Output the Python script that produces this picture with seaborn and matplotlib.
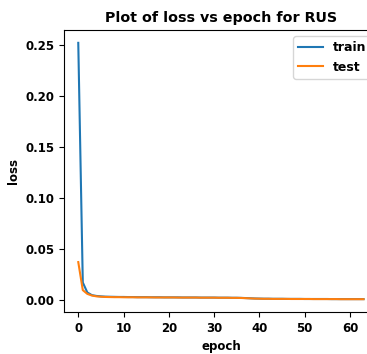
import numpy as np
import pandas as pd
import seaborn as sns
from matplotlib import pyplot as plt

# loss values, epochs 0..63
train_loss = [0.252, 0.017, 0.0072, 0.0046, 0.0038, 0.0034, 0.0031, 0.0030, 0.0029, 0.0028,
              0.0028, 0.0027, 0.0027, 0.0026, 0.0026, 0.0026, 0.0025, 0.0025, 0.0025, 0.0024,
              0.0024, 0.0024, 0.0024, 0.0023, 0.0023, 0.0023, 0.0023, 0.0022, 0.0022, 0.0022,
              0.0022, 0.0021, 0.0021, 0.0021, 0.0020, 0.0020, 0.0019, 0.0017, 0.0015, 0.0013,
              0.0012, 0.0011, 0.0011, 0.0010, 0.0010, 0.0010, 0.0009, 0.0009, 0.0009, 0.0009,
              0.0008, 0.0008, 0.0008, 0.0008, 0.0008, 0.0008, 0.0007, 0.0007, 0.0007, 0.0007,
              0.0007, 0.0007, 0.0007, 0.0007]
test_loss = [0.037, 0.0095, 0.0058, 0.0042, 0.0034, 0.0030, 0.0028, 0.0027, 0.0026, 0.0026,
             0.0025, 0.0025, 0.0025, 0.0024, 0.0024, 0.0024, 0.0024, 0.0023, 0.0023, 0.0023,
             0.0023, 0.0023, 0.0022, 0.0022, 0.0022, 0.0022, 0.0022, 0.0021, 0.0021, 0.0021,
             0.0021, 0.0020, 0.0020, 0.0020, 0.0019, 0.0019, 0.0018, 0.0016, 0.0014, 0.0012,
             0.0011, 0.0010, 0.0010, 0.0009, 0.0009, 0.0009, 0.0009, 0.0008, 0.0008, 0.0008,
             0.0008, 0.0008, 0.0007, 0.0007, 0.0007, 0.0007, 0.0007, 0.0007, 0.0006, 0.0006,
             0.0006, 0.0006, 0.0006, 0.0006]
epochs = list(range(len(train_loss)))

df = pd.DataFrame({"epoch": epochs * 2,
                   "loss": train_loss + test_loss,
                   "set": ["train"] * len(epochs) + ["test"] * len(epochs)})

plt.rcParams["font.weight"] = "bold"
plt.rcParams["axes.labelweight"] = "bold"
plt.rcParams["axes.titleweight"] = "bold"
plt.rcParams["font.size"] = 8.5

fig = plt.figure(figsize=(3.67, 3.54), dpi=100)
# axes runs past the right edge, the original image was cropped there
ax = fig.add_axes([0.1744, 0.1186, 0.855, 0.7966])

sns.lineplot(data=df, x="epoch", y="loss", hue="set",
             palette=["tab:blue", "tab:orange"], lw=1.5, ax=ax)

ax.set_title("Plot of loss vs epoch for RUS", fontsize=10.3)
ax.set_xlabel("epoch")
ax.set_ylabel("loss")
ax.legend(loc="upper right", fontsize=9)

fig.savefig("out.png", dpi=100)
